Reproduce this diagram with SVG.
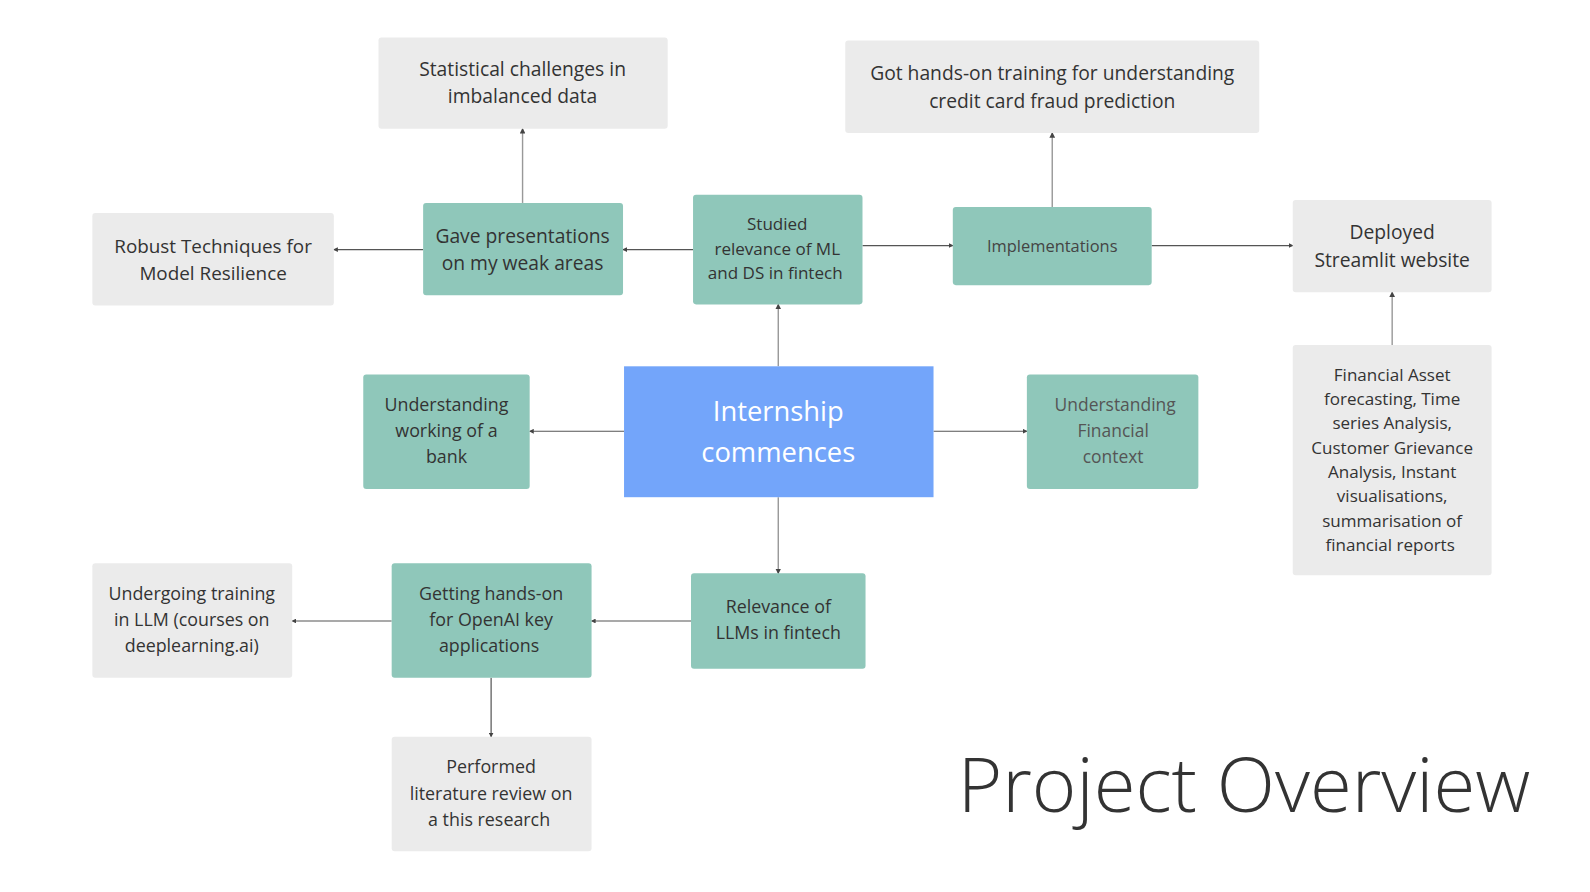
<svg xmlns="http://www.w3.org/2000/svg" width="1590" height="892" viewBox="0 0 1590 892">
<defs>
<style>
.g{fill:#ebebeb}
.t{fill:#8fc7ba}
.x{font-family:"Open Sans","Noto Sans",sans-serif;fill:#333;text-anchor:middle;font-size:19px}
.m{font-size:17.6px}
.s{font-size:16.8px}
.c{stroke:#555;stroke-width:1.2;fill:none;marker-end:url(#a)}
.c2{stroke:#999;stroke-width:1.4;fill:none;marker-end:url(#a)}
</style>
<marker id="a" viewBox="0 0 6 6" refX="5" refY="3" markerWidth="4" markerHeight="4" orient="auto"><path d="M0,0L6,3L0,6z" fill="#444"/></marker>
</defs>
<rect width="1590" height="892" fill="#fff"/>
<g transform="scale(1.0147)">
<g id="connectors">
<path class="c2" d="M515,200V127"/>
<path class="c" d="M417,246H329"/>
<path class="c" d="M683,246H614"/>
<path class="c" d="M850,242H939"/>
<path class="c2" d="M1037,204V131"/>
<path class="c" d="M1135,242H1274"/>
<path class="c2" d="M1372,340V288"/>
<path class="c2" d="M767,361V300"/>
<path class="c" d="M615,425H522"/>
<path class="c" d="M920,425H1012"/>
<path class="c2" d="M767,490V565"/>
<path class="c" d="M681,612H583"/>
<path class="c" d="M386,612H288"/>
<path class="c" d="M484,668V726"/>
</g>
<g id="stat"><rect class="g" x="373" y="37" width="285" height="90" rx="3"/><text class="x" x="515" y="75">Statistical challenges in</text><text class="x" x="515" y="102">imbalanced data</text></g>
<g id="fraud"><rect class="g" x="833" y="40" width="408" height="91" rx="3"/><text class="x" x="1037" y="79">Got hands-on training for understanding</text><text class="x" x="1037" y="106">credit card fraud prediction</text></g>
<g id="robust"><rect class="g" x="91" y="210" width="238" height="91" rx="3"/><text class="x" x="210" y="249" style="font-size:18.6px">Robust Techniques for</text><text class="x" x="210" y="276" style="font-size:18.6px">Model Resilience</text></g>
<g id="gave"><rect class="t" x="417" y="200" width="197" height="91" rx="3"/><text class="x" x="515" y="239">Gave presentations</text><text class="x" x="515" y="266">on my weak areas</text></g>
<g id="studied"><rect class="t" x="683" y="192" width="167" height="108" rx="3"/><text class="x s" x="766" y="227">Studied</text><text class="x s" x="766" y="251">relevance of ML</text><text class="x s" x="764" y="275">and DS in fintech</text></g>
<g id="impl"><rect class="t" x="939" y="204" width="196" height="77" rx="3"/><text class="x" x="1037" y="248" style="fill:#444;font-size:16.2px">Implementations</text></g>
<g id="deployed"><rect class="g" x="1274" y="197" width="196" height="91" rx="3"/><text class="x" x="1372" y="236">Deployed</text><text class="x" x="1372" y="263">Streamlit website</text></g>
<g id="asset"><rect class="g" x="1274" y="340" width="196" height="227" rx="3"/>
<text class="x s" x="1372" y="375">Financial Asset</text>
<text class="x s" x="1372" y="399">forecasting, Time</text>
<text class="x s" x="1372" y="423">series Analysis,</text>
<text class="x s" x="1372" y="447">Customer Grievance</text>
<text class="x s" x="1372" y="471">Analysis, Instant</text>
<text class="x s" x="1372" y="495">visualisations,</text>
<text class="x s" x="1372" y="519">summarisation of</text>
<text class="x s" x="1370" y="543">financial reports</text></g>
<g id="intern"><rect x="615" y="361" width="305" height="129" fill="#73a5fa"/><text class="x" x="767" y="415" style="fill:#fff;font-size:27px">Internship</text><text class="x" x="767" y="455" style="fill:#fff;font-size:27px">commences</text></g>
<g id="bank"><rect class="t" x="358" y="369" width="164" height="113" rx="3"/><text class="x m" x="440" y="405">Understanding</text><text class="x m" x="440" y="431">working of a</text><text class="x m" x="440" y="456">bank</text></g>
<g id="fin"><rect class="t" x="1012" y="369" width="169" height="113" rx="3"/><text class="x" x="1099" y="405" style="fill:#555;font-size:17.2px">Understanding</text><text class="x" x="1097" y="431" style="fill:#555;font-size:17.2px">Financial</text><text class="x" x="1097" y="456" style="fill:#555;font-size:17.2px">context</text></g>
<g id="llm"><rect class="t" x="681" y="565" width="172" height="94" rx="3"/><text class="x m" x="767" y="604">Relevance of</text><text class="x m" x="767" y="630">LLMs in fintech</text></g>
<g id="openai"><rect class="t" x="386" y="555" width="197" height="113" rx="3"/><text class="x m" x="484" y="591">Getting hands-on</text><text class="x m" x="484" y="617">for OpenAI key</text><text class="x m" x="482" y="643">applications</text></g>
<g id="training"><rect class="g" x="91" y="555" width="197" height="113" rx="3"/><text class="x m" x="189" y="591">Undergoing training</text><text class="x m" x="189" y="617">in LLM (courses on</text><text class="x m" x="189" y="643">deeplearning.ai)</text></g>
<g id="lit"><rect class="g" x="386" y="726" width="197" height="113" rx="3"/><text class="x m" x="484" y="762">Performed</text><text class="x m" x="484" y="788">literature review on</text><text class="x m" x="482" y="814">a this research</text></g>
<text x="1226" y="800" style="font-family:'Open Sans','Noto Sans',sans-serif;font-weight:300;font-size:75px;fill:#333;text-anchor:middle">Project Overview</text>
</g>
</svg>
